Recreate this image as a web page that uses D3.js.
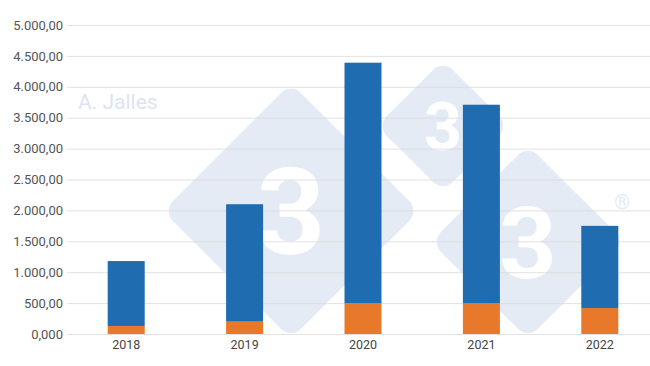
<!DOCTYPE html>
<html>
  <head>
    <meta charset="utf-8">
    <title>D3</title>
    <script src="https://d3js.org/d3.v7.min.js"></script>
    <style>
      body { margin: 0; background: #fff; }
      text { font-family: Roboto, "Liberation Sans", sans-serif; }
    </style>
  </head>
  <body>
    <svg width="650" height="366"></svg>

  <script>
    // data
    var years = ["2018", "2019", "2020", "2021", "2022"];
    var orangeValues = [130, 200, 500, 500, 420];
    var blueValues = [1050, 1900, 3890, 3210, 1330];
    var tickValues = [0, 500, 1000, 1500, 2000, 2500, 3000, 3500, 4000, 4500, 5000];
    var tickLabels = ["0,000", "500,00", "1.000,00", "1.500,00", "2.000,00", "2.500,00",
                      "3.000,00", "3.500,00", "4.000,00", "4.500,00", "5.000,00"];

    var svg = d3.select("svg");

    var xScale = d3.scaleBand().domain(years).range([67, 659]).paddingInner(0.6875).paddingOuter(0.34375),
        yScale = d3.scaleLinear().domain([0, 5000]).range([334, 25]);

    // watermark logo (diamonds with a "3")
    var wm = svg.append("g");
    var diamonds = [
      { cx: 291, cy: 211, r: 128, fs: 120 },
      { cx: 443, cy: 126, r: 66, fs: 66 },
      { cx: 528, cy: 242, r: 97, fs: 100 }
    ];
    diamonds.forEach(function(d) {
      var s = d.r * Math.SQRT1_2 * 2;
      wm.append("rect")
        .attr("x", -s / 2).attr("y", -s / 2)
        .attr("width", s).attr("height", s)
        .attr("rx", 14)
        .attr("fill", "#e4ebf5")
        .attr("transform", "translate(" + d.cx + "," + d.cy + ") rotate(45)");
    });
    diamonds.forEach(function(d) {
      wm.append("text")
        .attr("x", d.cx).attr("y", d.cy + d.fs * 0.36)
        .attr("text-anchor", "middle")
        .attr("font-size", d.fs + "px")
        .attr("font-weight", "bold")
        .attr("fill", "#fff")
        .text("3");
    });
    wm.append("text")
      .attr("x", 622).attr("y", 209)
      .attr("text-anchor", "middle")
      .attr("font-size", "20px")
      .attr("fill", "#e4ebf5")
      .text("®");
    wm.append("text")
      .attr("x", 78).attr("y", 109)
      .attr("font-size", "21px")
      .attr("fill", "#dbe5f1")
      .text("A. Jalles");

    // grid + y labels
    var yAxis = svg.append("g")
      .attr("transform", "translate(67,0)")
      .call(d3.axisLeft(yScale).tickValues(tickValues)
        .tickSize(-590)
        .tickPadding(4)
        .tickFormat(function(d, i) { return tickLabels[i]; }));
    yAxis.select(".domain").remove();
    yAxis.selectAll(".tick line").attr("stroke", "#d9d9d9").attr("stroke-opacity", 0.8);
    yAxis.selectAll(".tick text").attr("fill", "#555").attr("font-size", "13px");

    // x labels
    var xAxis = svg.append("g")
      .attr("transform", "translate(0,334)")
      .call(d3.axisBottom(xScale).tickSize(0).tickPadding(6));
    xAxis.select(".domain").remove();
    xAxis.selectAll(".tick text").attr("fill", "#444").attr("font-size", "12.5px");

    // stacked bars
    var rows = years.map(function(y, i) { return { year: y, orange: orangeValues[i], blue: blueValues[i] }; });
    var stack = d3.stack().keys(["orange", "blue"])(rows);
    var colors = { orange: "#e8782a", blue: "#1f6cb0" };

    svg.append("g").selectAll("g")
      .data(stack)
      .enter().append("g")
      .attr("fill", function(d) { return colors[d.key]; })
      .selectAll("rect")
      .data(function(d) { return d; })
      .enter().append("rect")
      .attr("x", function(d) { return xScale(d.data.year); })
      .attr("y", function(d) { return yScale(d[1]); })
      .attr("width", xScale.bandwidth())
      .attr("height", function(d) { return yScale(d[0]) - yScale(d[1]); });
  </script>
  </body>
</html>
